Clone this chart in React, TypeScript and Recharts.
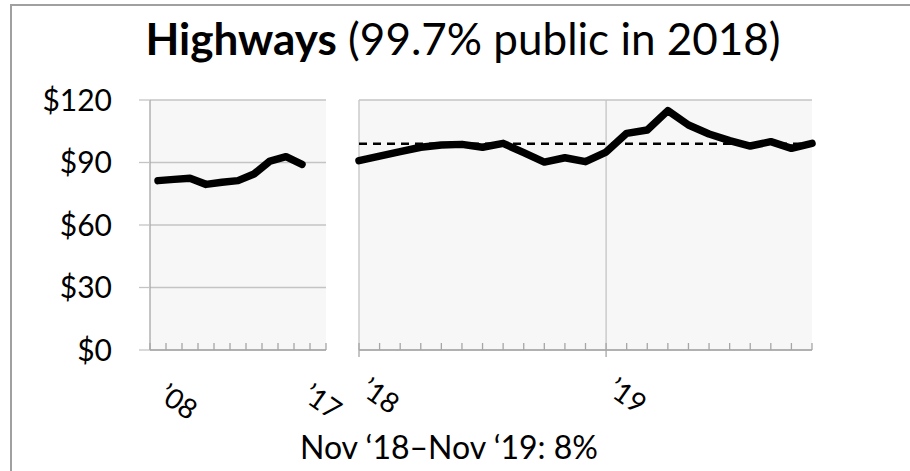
import React from "react";
import {
  LineChart,
  Line,
  XAxis,
  YAxis,
  CartesianGrid,
  ReferenceLine,
} from "recharts";

// annual averages, '08 to '17
const yearLabels = ["’08", "’09", "’10", "’11", "’12", "’13", "’14", "’15", "’16", "’17"];
const yearValues = [81.3, 81.9, 82.4, 79.5, 80.5, 81.3, 84.5, 90.7, 92.8, 89.1];

// monthly, Jan '18 to Nov '19
const monthLabels = [
  "Jan ’18", "Feb ’18", "Mar ’18", "Apr ’18", "May ’18", "Jun ’18",
  "Jul ’18", "Aug ’18", "Sep ’18", "Oct ’18", "Nov ’18", "Dec ’18",
  "Jan ’19", "Feb ’19", "Mar ’19", "Apr ’19", "May ’19", "Jun ’19",
  "Jul ’19", "Aug ’19", "Sep ’19", "Oct ’19", "Nov ’19",
];
const monthValues = [
  90.9, 93.1, 95.2, 97.3, 98.4, 98.7, 97.3, 99.2, 94.7, 90.2, 92.3, 90.4,
  95.0, 104.0, 105.6, 114.9, 108.0, 103.7, 100.5, 97.9, 100.0, 96.8, 99.2,
];

const yTicks = [0, 30, 60, 90, 120];
const average2018 = 99;

const FONT = "Lato, 'Open Sans', sans-serif";
const GRID = "#c4c4c4";
const AXIS = "#a6a6a6";

// one slot per year plus an empty one at the end, like the original
const yearSlots = yearLabels.length + 1;
const yearData = yearValues.map((v, i) => ({ x: i + 0.5, v }));
const yearTickLines = Array.from({ length: yearSlots + 1 }, (_, i) => i);
const yearLabelTicks = [0, yearLabels.length - 1].map((i) => i + 0.5);

const monthData = monthValues.map((v, i) => ({ x: i, v }));
const monthTicks = monthLabels.map((_, i) => i);
const januaries = monthTicks.filter((i) => monthLabels[i].startsWith("Jan"));

const YearTick = (props: any) => {
  const { x, y, payload } = props;
  const v = payload.value as number;
  if (Number.isInteger(v)) {
    return <line x1={x} x2={x} y1={y} y2={y - 7} stroke={AXIS} strokeWidth={1.3} />;
  }
  const label = yearLabels[Math.floor(v)];
  return (
    <text
      transform={`translate(${x - 1},${y + 49}) rotate(35)`}
      fontSize={28}
      fontFamily={FONT}
      fill="#000"
    >
      {label}
    </text>
  );
};

const MonthTick = (props: any) => {
  const { x, y, payload } = props;
  const i = payload.value as number;
  const isJan = januaries.includes(i);
  return (
    <g>
      <line x1={x} x2={x} y1={isJan ? y + 7 : y} y2={y - 7} stroke={AXIS} strokeWidth={1.3} />
      {isJan && (
        <text
          transform={`translate(${x},${y + 43}) rotate(35)`}
          fontSize={28}
          fontFamily={FONT}
          fill="#000"
        >
          {"’" + monthLabels[i].slice(-2)}
        </text>
      )}
    </g>
  );
};

export default function App() {
  return (
    <div
      style={{
        position: "absolute",
        left: 0,
        top: 0,
        width: 910,
        height: 471,
        background: "#fff",
        overflow: "hidden",
        fontFamily: FONT,
      }}
    >
      <div
        style={{
          position: "absolute",
          left: 10,
          top: 4,
          width: 1000,
          height: 1000,
          borderTop: "2px solid #a0a0a0",
          borderLeft: "2px solid #a0a0a0",
        }}
      />
      <div
        style={{
          position: "absolute",
          left: 0,
          width: 926,
          top: 12,
          textAlign: "center",
          fontSize: 44,
          lineHeight: "52px",
          color: "#000",
        }}
      >
        <b>Highways</b> (99.7% public in 2018)
      </div>

      {/* left panel: annual values */}
      <div style={{ position: "absolute", left: 0, top: 0 }}>
        <LineChart
          width={910}
          height={471}
          data={yearData}
          margin={{ top: 100, right: 584, bottom: 0, left: 0 }}
        >
          <CartesianGrid vertical={false} stroke={GRID} strokeWidth={1.3} fill="#f7f7f7" />
          <YAxis
            domain={[0, 120]}
            ticks={yTicks}
            width={150}
            tickSize={11}
            tickMargin={27}
            axisLine={{ stroke: AXIS, strokeWidth: 1.3 }}
            tickLine={{ stroke: GRID, strokeWidth: 1.3 }}
            tick={{ fill: "#000", fontSize: 30, fontFamily: FONT }}
            tickFormatter={(v: number) => `$${v}`}
          />
          <XAxis
            dataKey="x"
            type="number"
            domain={[0, yearSlots]}
            ticks={[...yearTickLines, ...yearLabelTicks]}
            interval={0}
            height={121}
            tickSize={0}
            tickMargin={0}
            tickLine={false}
            axisLine={{ stroke: AXIS, strokeWidth: 1.3 }}
            tick={<YearTick />}
          />
          <Line
            dataKey="v"
            type="linear"
            stroke="#000"
            strokeWidth={7.5}
            strokeLinejoin="round"
            strokeLinecap="round"
            dot={false}
            isAnimationActive={false}
          />
        </LineChart>
      </div>

      {/* right panel: monthly values */}
      <div style={{ position: "absolute", left: 0, top: 0 }}>
        <LineChart
          width={910}
          height={471}
          data={monthData}
          margin={{ top: 100, right: 98, bottom: 0, left: 359 }}
        >
          <CartesianGrid vertical={false} stroke={GRID} strokeWidth={1.3} fill="#f7f7f7" />
          <YAxis
            domain={[0, 120]}
            ticks={yTicks}
            width={0}
            tick={false}
            tickLine={false}
            axisLine={false}
          />
          <XAxis
            dataKey="x"
            type="number"
            domain={[0, monthLabels.length - 1]}
            ticks={monthTicks}
            interval={0}
            height={121}
            tickSize={0}
            tickMargin={0}
            tickLine={false}
            axisLine={{ stroke: AXIS, strokeWidth: 1.3 }}
            tick={<MonthTick />}
          />
          {januaries.map((i) => (
            <ReferenceLine key={i} x={i} stroke={GRID} strokeWidth={1.3} />
          ))}
          <ReferenceLine y={average2018} stroke="#000" strokeWidth={2.5} strokeDasharray="8 6" />
          <Line
            dataKey="v"
            type="linear"
            stroke="#000"
            strokeWidth={7.5}
            strokeLinejoin="round"
            strokeLinecap="round"
            dot={false}
            isAnimationActive={false}
          />
        </LineChart>
      </div>

      <div
        style={{
          position: "absolute",
          left: 290,
          width: 318,
          top: 428,
          textAlign: "center",
          fontSize: 32,
          lineHeight: "38px",
          color: "#000",
          whiteSpace: "nowrap",
        }}
      >
        Nov ‘18–Nov ‘19: 8%
      </div>
    </div>
  );
}
